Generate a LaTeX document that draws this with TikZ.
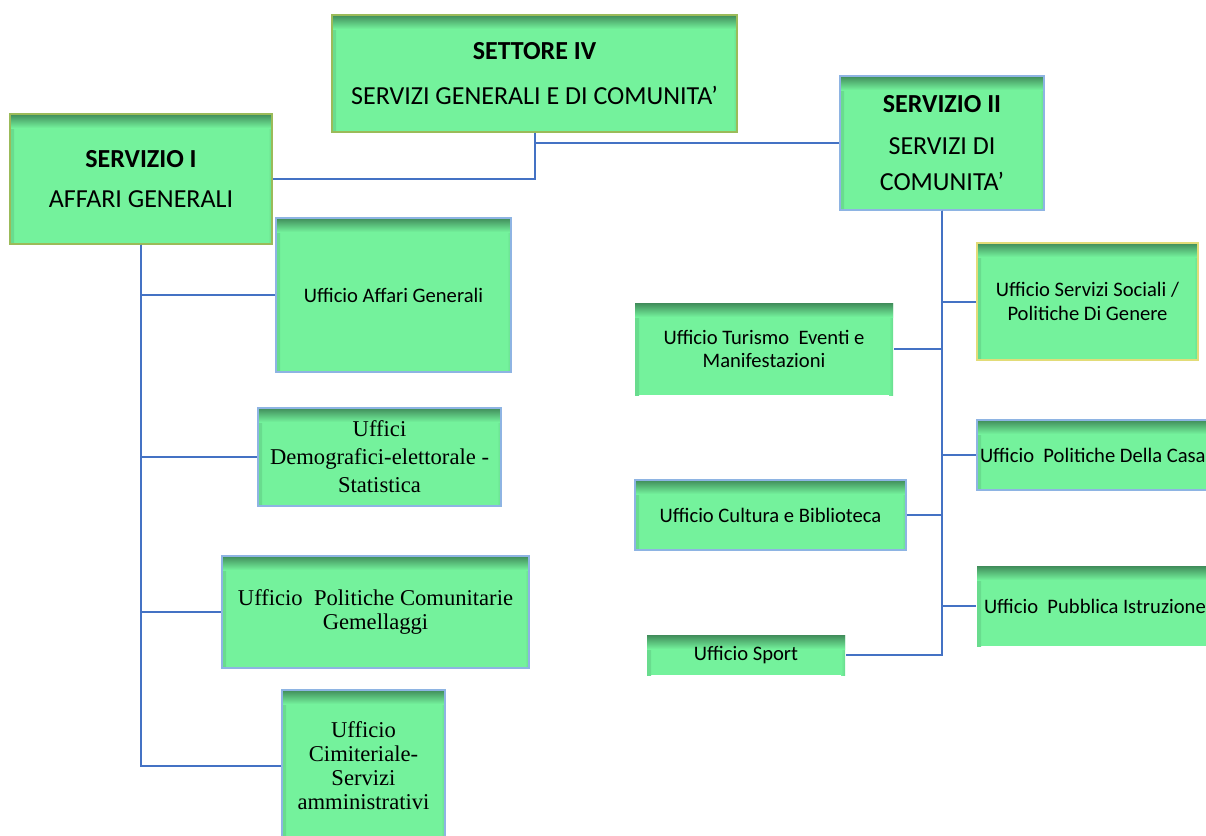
\documentclass[tikz,border=0pt]{standalone}
\usepackage{fontspec}
\setmainfont{Carlito}
\newfontfamily\serffont{Liberation Serif}

\definecolor{boxgreen}{RGB}{116,242,156}
\definecolor{shadegreen}{RGB}{64,140,90}
\definecolor{linkblue}{RGB}{68,114,196}
\definecolor{edgeblue}{RGB}{142,180,227}
\definecolor{edgeolive}{RGB}{155,187,89}
\definecolor{edgeyellow}{RGB}{226,220,120}

\tikzset{
	ufbox/.style={draw=edgeblue, line width=.6pt, fill=boxgreen, inner sep=0pt, align=center,
		path picture={
			\fill[left color=shadegreen!22!boxgreen, right color=boxgreen] (path picture bounding box.north west) rectangle ([xshift=2pt]path picture bounding box.south west);
			\fill[left color=boxgreen, right color=shadegreen!22!boxgreen] ([xshift=-2pt]path picture bounding box.north east) rectangle (path picture bounding box.south east);
			\fill[top color=shadegreen, bottom color=boxgreen] (path picture bounding box.north west) rectangle ([yshift=-7pt]path picture bounding box.north east);
		}},
	pxsize/.style 2 args={minimum width=#1*.5pt, minimum height=#2*.5pt},
	headtext/.style={font=\fontsize{13}{18}\selectfont},
	sanstext/.style={font=\fontsize{10.3}{11.6}\selectfont},
	serftext/.style={font=\serffont\fontsize{11.3}{12}\selectfont},
	link/.style={draw=linkblue, line width=1pt}
}

\begin{document}
\begin{tikzpicture}[x=.5pt, y=-.5pt]
			\useasboundingbox (0,0) rectangle (1206,836);
			
			\node[ufbox, draw=edgeolive, headtext, pxsize={405}{117}] (settore) at (534.5,73.5) {\textbf{SETTORE IV}\\[4.5pt] SERVIZI GENERALI E DI COMUNITA’};
			\node[ufbox, draw=edgeolive, headtext, pxsize={262}{130}] (serv1) at (141,179) {\textbf{SERVIZIO I}\\[2pt] AFFARI GENERALI};
			\node[ufbox, headtext, pxsize={204}{134}] (serv2) at (942,143) {\textbf{SERVIZIO II}\\[3pt] SERVIZI DI\\ COMUNITA’};
			
			\node[ufbox, sanstext, pxsize={235}{154}] (uaffari) at (393.5,295) {Ufficio Affari Generali};
			\node[ufbox, font=\serffont\fontsize{11.3}{14}\selectfont, pxsize={243}{98}] (udemo) at (379.5,457) {Uffici\\ Demografici-elettorale -\\ Statistica};
			\node[ufbox, serftext, pxsize={307}{112}] (upolcom) at (375.5,612) {Ufficio\ \ Politiche Comunitarie\\ Gemellaggi};
			\node[ufbox, serftext, pxsize={163}{152}] (ucimit) at (363.5,766) {Ufficio\\ Cimiteriale-\\ Servizi\\ amministrativi};
			
			\node[ufbox, draw=edgeyellow, sanstext, pxsize={221}{117}] (usociali) at (1087.5,301.5) {Ufficio Servizi Sociali /\\ Politiche Di Genere};
			\node[ufbox, sanstext, pxsize={263}{70}] (ucasa) at (1108.5,455) {\makebox[128.5pt][l]{Ufficio\ \ Politiche Della Casa}};
			\node[ufbox, draw=none, sanstext, pxsize={263}{80}] (uistruz) at (1108.5,606) {\makebox[124.5pt][l]{Ufficio\ \ Pubblica Istruzione}};
			\node[ufbox, draw=none, sanstext, pxsize={258}{92}] (uturismo) at (764,349) {Ufficio Turismo\ \ Eventi e\\ Manifestazioni};
			\node[ufbox, sanstext, pxsize={271}{70}] (ucultura) at (770.5,515) {Ufficio Cultura e Biblioteca};
			\node[ufbox, draw=none, sanstext, pxsize={198}{40}] (usport) at (746,655) {Ufficio Sport};
			
			\draw[link] (settore.south) |- (serv2.west);
			\draw[link] (settore.south) |- (serv1.east);
			
			\draw[link] (serv1.south) |- (uaffari.west);
			\draw[link] (serv1.south) |- (udemo.west);
			\draw[link] (serv1.south) |- (upolcom.west);
			\draw[link] (serv1.south) |- (ucimit.west);
			
			\draw[link] (serv2.south) |- (usociali.west);
			\draw[link] (serv2.south) |- (ucasa.west);
			\draw[link] (serv2.south) |- (uistruz.west);
			\draw[link] (serv2.south) |- (uturismo.east);
			\draw[link] (serv2.south) |- (ucultura.east);
			\draw[link] (serv2.south) |- (usport.east);
\end{tikzpicture}
\end{document}
